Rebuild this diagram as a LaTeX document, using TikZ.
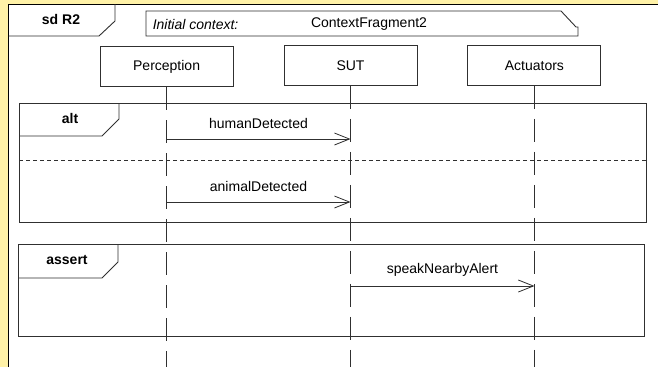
\documentclass[tikz,border=0pt]{standalone}
\usepackage{fontspec}
\setmainfont{Liberation Sans}
\usetikzlibrary{matrix,arrows.meta}
\definecolor{notepaper}{HTML}{FFF2A8}
\definecolor{umlline}{HTML}{303030}

\begin{document}
\begin{tikzpicture}[x=1pt,y=-1pt,line width=0.9pt,
  every node/.style={font=\fontsize{14}{16}\selectfont},
  lifeline/.style={draw=umlline,dash pattern=on 23pt off 10pt},
  fragment/.style={draw=umlline},
  separator/.style={draw=umlline,line width=0.8pt,dash pattern=on 4pt off 3pt},
  msg/.style={draw=umlline,line width=0.8pt,-{Straight Barb[length=15pt,width=12pt]}},
  tablabel/.style={font=\bfseries\fontsize{14}{16}\selectfont},
  msglabel/.style={midway,yshift=16pt}]
  \useasboundingbox (0,0) rectangle (658,367);
  \fill[notepaper] (0,0) rectangle (658,367);
  \fill[white] (8.5,4) rectangle (658,367);
  \draw[black] (8.5,367) -- (8.5,4) -- (658,4);
  % diagram frame tab
  \draw[fragment] (8.5,36) -- (99,36) -- (115,21) -- (115,4);
  \node[tablabel] (sdname) at (61,19) {sd R2};
  % initial context note
  \draw[fragment] (146,11) -- (561,11) -- (576,27) -- (578,27) -- (578,36) -- (146,36) -- cycle;
  \node[anchor=west] (ctxkey) at (149,24) {\itshape Initial context:};
  \node (ctxval) at (369,24) {ContextFragment2};

  \matrix (heads) [matrix of nodes, column sep=50pt,
    nodes={draw=umlline, minimum width=133pt, minimum height=40pt}] at (350.5,66)
  {
Perception & SUT & Actuators \\
};
  \coordinate (bottom) at (0,367);
  \foreach \n in {1,2,3}
    \draw[lifeline] (heads-1-\n.south) -- (heads-1-\n.south |- bottom);

  % alt fragment
  \draw[fragment] (19,103) rectangle (646,222);
  \draw[fragment] (19,136) -- (102,136) -- (119,119) -- (119,103);
  \node[tablabel] (altname) at (70,118) {alt};
  \draw[separator] (19,160) -- (646,160);

  % assert fragment
  \draw[fragment] (18,244) rectangle (644,336);
  \draw[fragment] (18,278) -- (102,278) -- (118,262) -- (118,244);
  \node[tablabel] (assertname) at (67,260) {assert};

  \coordinate (yHuman) at (0,139);
  \coordinate (yAnimal) at (0,202);
  \coordinate (yAlert) at (0,286);
  \path[every edge/.append style=msg]
  (heads-1-1 |- yHuman) edge node[msglabel] (lblHuman) {humanDetected} (heads-1-2 |- yHuman)
  (heads-1-1 |- yAnimal) edge node[msglabel] (lblAnimal) {animalDetected} (heads-1-2 |- yAnimal)
  (heads-1-2 |- yAlert) edge node[msglabel] (lblAlert) {speakNearbyAlert} (heads-1-3 |- yAlert)
  ;
\end{tikzpicture}
\end{document}
